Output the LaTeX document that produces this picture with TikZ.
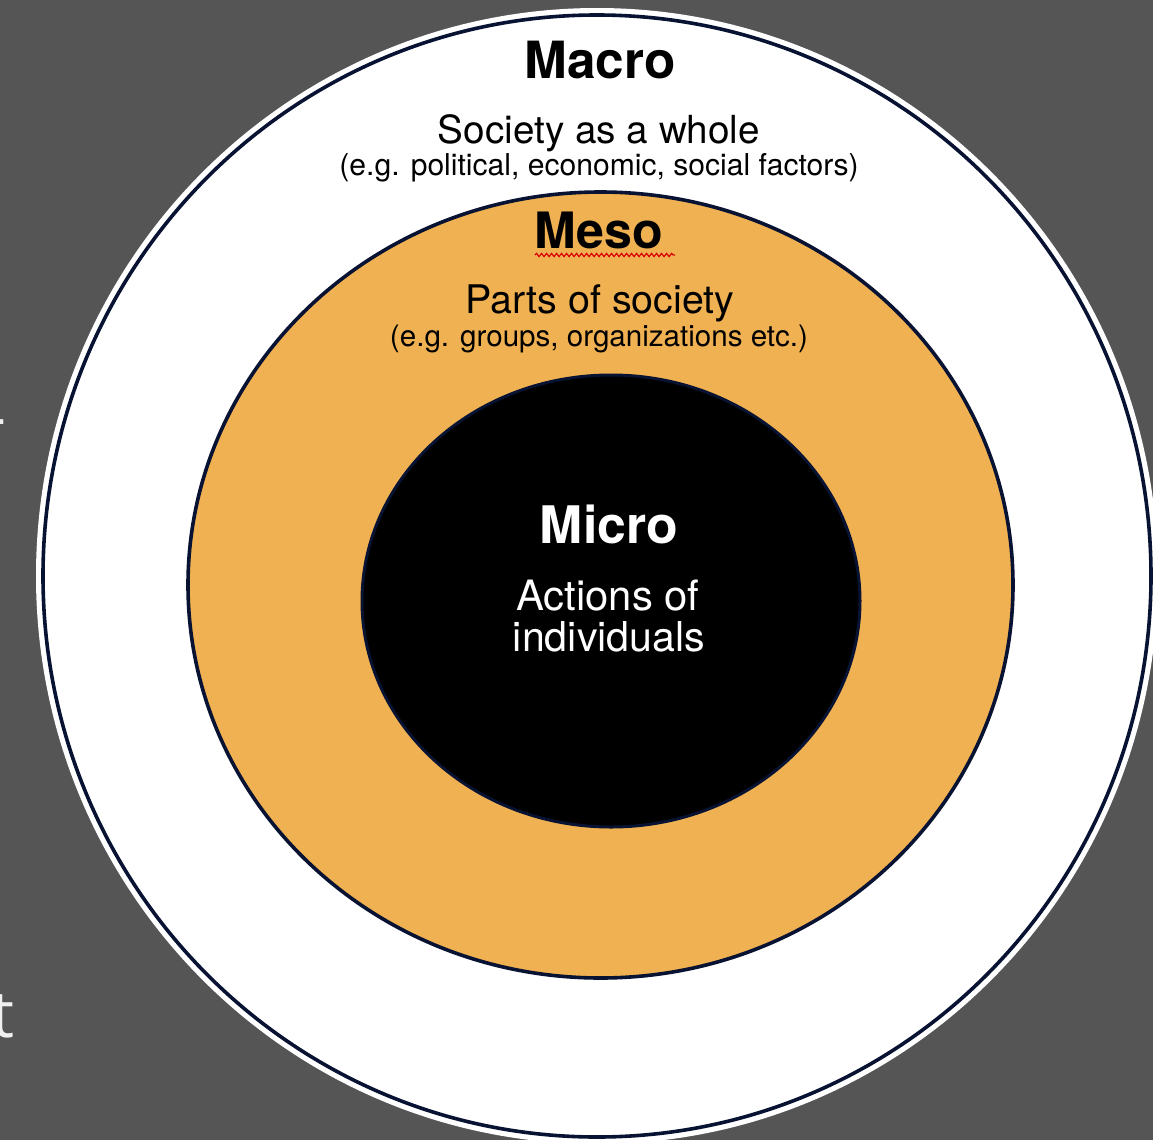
\documentclass[tikz,border=0pt]{standalone}
\usepackage{fontspec}
\setmainfont{TeX Gyre Heros}
\newfontfamily\bgfont{Open Sans}
\usetikzlibrary{decorations.pathmorphing}
\definecolor{bggray}{RGB}{85,85,85}
\definecolor{mesoorange}{RGB}{240,177,82}
\definecolor{navyline}{RGB}{8,18,50}
\definecolor{bgletter}{RGB}{240,240,240}
\newcommand{\fitw}[2]{\resizebox{#1pt}{!}{#2}}
\tikzset{
  lbl/.style={inner sep=0pt, anchor=base},
  ringline/.style={draw=navyline, line width=3.6pt},
  bgtext/.style={inner sep=0pt, text=bgletter, font=\bgfont\fontsize{65}{70}\selectfont},
}
\begin{document}
\begin{tikzpicture}[x=1pt,y=-1pt]
\fill[bggray] (0,0) rectangle (1153,1140);
\useasboundingbox (0,0) rectangle (1153,1140);
% partial background letters at the left edge
\node[bgtext, anchor=base east] (bgdash) at (7,439) {-};
\node[bgtext, anchor=base west] (bgt) at (-9,1037) {t};
% outer (Macro) circle
\fill[white] (597,576) ellipse [x radius=561, y radius=568];
\draw[ringline] (597,576) ellipse [x radius=554, y radius=561];
% middle (Meso) circle
\filldraw[fill=mesoorange, ringline] (600.5,585) ellipse [x radius=412.5, y radius=393];
% inner (Micro) circle
\filldraw[fill=black, draw=navyline, line width=3pt] (611,601) ellipse [x radius=249, y radius=226];
% texts
\node[lbl] (tmacro) at (600,78) {\fitw{151}{\bfseries Macro}};
\node[lbl] (tsoc) at (599,143) {\fitw{322}{Society as a whole}};
\node[lbl] (tsoceg) at (599,175) {\fitw{519}{(e.g. political, economic, social factors)}};
\node[lbl] (tmeso) at (599,248) {\fitw{128}{\bfseries Meso}};
\draw[red!85!black, line width=1.2pt, decorate, decoration={snake, amplitude=1.6pt, segment length=5pt}] (535,255) -- (675,255);
\node[lbl] (tparts) at (600,313) {\fitw{269}{Parts of society}};
\node[lbl] (tpartseg) at (599,346) {\fitw{418}{(e.g. groups, organizations etc.)}};
\node[lbl, text=white] (tmicro) at (609,543) {\fitw{138}{\bfseries Micro}};
\node[lbl, text=white] (tact) at (608,610) {\fitw{183}{Actions of}};
\node[lbl, text=white] (tind) at (609,651) {\fitw{192}{individuals}};
\end{tikzpicture}
\end{document}
